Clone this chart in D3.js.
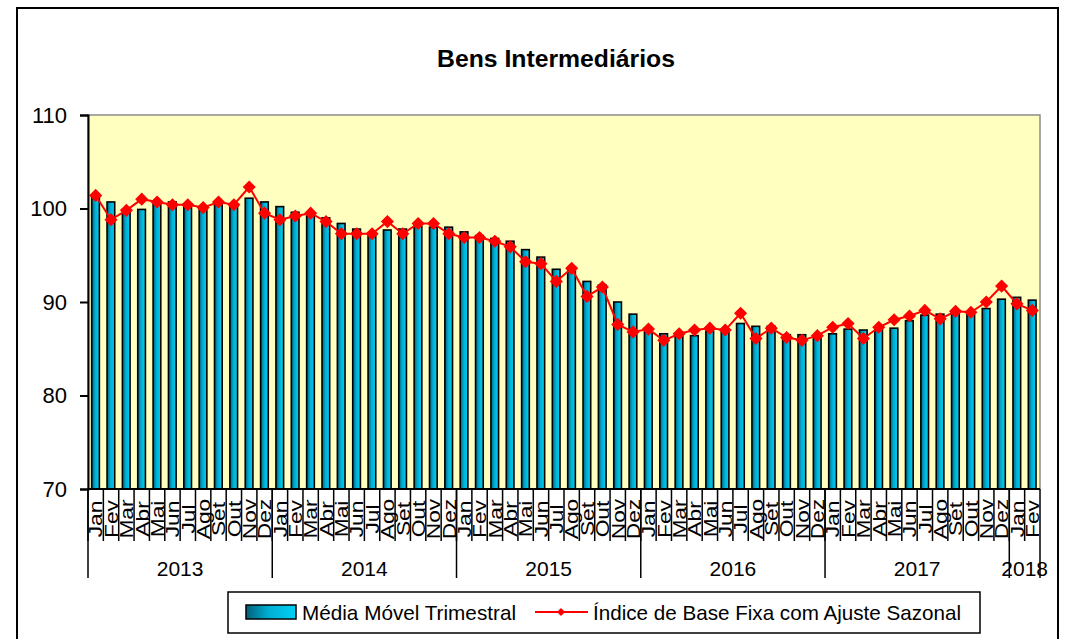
<!DOCTYPE html>
<html>
<head>
<meta charset="utf-8">
<script src="https://cdn.jsdelivr.net/npm/d3@7"></script>
<style>
  body { margin: 0; background: #fff; }
  text { font-family: "Liberation Sans", Arial, sans-serif; fill: #000; }
</style>
</head>
<body>
<div id="chart"></div>
<script>
// month and year labels
const months = ["Jan", "Fev", "Mar", "Abr", "Mai", "Jun", "Jul", "Ago", "Set", "Out", "Nov", "Dez"];
const years = ["2013", "2014", "2015", "2016", "2017", "2018"];
const monthsInYear = [12, 12, 12, 12, 12, 2];

// Índice de Base Fixa com Ajuste Sazonal (red line)
const indice = [
    101.4, 98.8, 99.8, 101.0, 100.7, 100.4, 100.4, 100.1, 100.7, 100.4, 102.3, 99.5,   // 2013
    98.8, 99.2, 99.5, 98.6, 97.3, 97.3, 97.3, 98.6, 97.3, 98.4, 98.4, 97.3,            // 2014
    96.9, 96.9, 96.5, 95.9, 94.3, 94.1, 92.2, 93.6, 90.6, 91.6, 87.6, 86.8,            // 2015
    87.1, 85.9, 86.6, 87.0, 87.2, 87.0, 88.8, 86.1, 87.2, 86.2, 85.9, 86.4,            // 2016
    87.3, 87.7, 86.1, 87.3, 88.1, 88.5, 89.1, 88.2, 89.0, 88.9, 90.0, 91.7,            // 2017
    89.8, 89.1                                                                         // 2018
];

// Média Móvel Trimestral (bars)
const mediaMovel = [
    101.3, 100.7, 99.9, 99.9, 100.6, 100.7, 100.5, 100.2, 100.5, 100.5, 101.1, 100.7,  // 2013
    100.2, 99.6, 99.2, 99.0, 98.4, 97.8, 97.3, 97.7, 97.8, 98.1, 98.0, 98.0,           // 2014
    97.5, 97.1, 96.8, 96.5, 95.6, 94.8, 93.5, 93.3, 92.2, 91.8, 90.0, 88.7,            // 2015
    87.2, 86.6, 86.5, 86.4, 86.9, 87.0, 87.7, 87.4, 87.4, 86.5, 86.5, 86.2,            // 2016
    86.6, 87.1, 87.0, 87.0, 87.2, 88.0, 88.6, 88.7, 88.8, 88.7, 89.3, 90.3,            // 2017
    90.5, 90.2                                                                         // 2018
];

const yTicks = [70, 80, 90, 100, 110];

// build category list (year, month)
const categories = [];
years.forEach((yr, yi) => {
    for (let m = 0; m < monthsInYear[yi]; m++) {
        categories.push({ year: yr, month: months[m], i: categories.length });
    }
});

// SVG dimensions
const width = 1070;
const height = 639;
const plotLeft = 88;
const plotRight = 1040;
const plotTop = 115;
const plotBottom = 489;

const svg = d3.select("#chart")
    .append("svg")
    .attr("width", width)
    .attr("height", height);

// bar gradient
const defs = svg.append("defs");
const grad = defs.append("linearGradient")
    .attr("id", "barGrad")
    .attr("x1", "0%").attr("x2", "100%")
    .attr("y1", "0%").attr("y2", "0%");
grad.append("stop").attr("offset", "0%").attr("stop-color", "#005f78");
grad.append("stop").attr("offset", "45%").attr("stop-color", "#00aed2");
grad.append("stop").attr("offset", "100%").attr("stop-color", "#00d0f5");

// outer frame
svg.append("rect")
    .attr("x", 17).attr("y", 8)
    .attr("width", 1041).attr("height", 650)
    .attr("fill", "none")
    .attr("stroke", "#000")
    .attr("stroke-width", 2);

// scales
const x = d3.scaleBand()
    .domain(categories.map(d => d.i))
    .range([plotLeft, plotRight])
    .padding(0);

const y = d3.scaleLinear()
    .domain([70, 110])
    .range([plotBottom, plotTop]);

// plot background
svg.append("rect")
    .attr("x", plotLeft).attr("y", plotTop)
    .attr("width", plotRight - plotLeft)
    .attr("height", plotBottom - plotTop)
    .attr("fill", "#ffffc0")
    .attr("stroke", "#8c8c8c")
    .attr("stroke-width", 1.5);

// title
svg.append("text")
    .attr("x", 556)
    .attr("y", 67)
    .attr("text-anchor", "middle")
    .attr("font-size", 23)
    .attr("font-weight", "bold")
    .attr("textLength", 238)
    .attr("lengthAdjust", "spacingAndGlyphs")
    .text("Bens Intermediários");

// bars
const bw = x.bandwidth();
svg.append("g")
    .selectAll("rect")
    .data(mediaMovel)
    .enter().append("rect")
    .attr("x", (d, i) => x(i) + bw * 0.24)
    .attr("y", d => y(d))
    .attr("width", bw * 0.5)
    .attr("height", d => plotBottom - y(d))
    .attr("fill", "url(#barGrad)")
    .attr("stroke", "#000")
    .attr("stroke-width", 1.6);

// red line + diamond markers
const line = d3.line()
    .x((d, i) => x(i) + bw / 2)
    .y(d => y(d));

svg.append("path")
    .datum(indice)
    .attr("d", line)
    .attr("fill", "none")
    .attr("stroke", "#ff0000")
    .attr("stroke-width", 2);

const diamond = d3.symbol().type(d3.symbolDiamond2).size(110);
svg.append("g")
    .selectAll("path")
    .data(indice)
    .enter().append("path")
    .attr("d", diamond)
    .attr("transform", (d, i) => `translate(${x(i) + bw / 2},${y(d)})`)
    .attr("fill", "#ff0000");

// y axis
const yAxis = d3.axisLeft(y)
    .tickValues(yTicks)
    .tickSize(8)
    .tickPadding(13);

const yG = svg.append("g")
    .attr("transform", `translate(${plotLeft},0)`)
    .call(yAxis);
yG.select(".domain").attr("stroke", "#000").attr("stroke-width", 2);
yG.selectAll(".tick line").attr("stroke", "#000").attr("stroke-width", 2);
yG.selectAll(".tick text")
    .attr("font-size", 22)
    .attr("font-family", "Liberation Sans, Arial, sans-serif");

// x axis baseline
svg.append("line")
    .attr("x1", plotLeft).attr("x2", plotRight)
    .attr("y1", plotBottom).attr("y2", plotBottom)
    .attr("stroke", "#000")
    .attr("stroke-width", 2);

// month tick lines (category boundaries)
svg.append("g")
    .selectAll("line")
    .data(categories)
    .enter().append("line")
    .attr("x1", d => x(d.i)).attr("x2", d => x(d.i))
    .attr("y1", plotBottom).attr("y2", 541)
    .attr("stroke", "#000")
    .attr("stroke-width", 1.5);

// month labels (rotated, slightly stretched along the text)
svg.append("g")
    .selectAll("text")
    .data(categories)
    .enter().append("text")
    .attr("transform", d => `translate(${x(d.i) + bw / 2},519) rotate(-90) scale(1.2,1)`)
    .attr("text-anchor", "middle")
    .attr("dominant-baseline", "central")
    .attr("font-size", 19)
    .text(d => d.month);

// year groups
const yearSpans = [];
let start = 0;
years.forEach((yr, yi) => {
    yearSpans.push({ year: yr, first: start, last: start + monthsInYear[yi] - 1 });
    start += monthsInYear[yi];
});

const yearEdges = yearSpans.map(s => x(s.first)).concat([plotRight]);
svg.append("g")
    .selectAll("line")
    .data(yearEdges)
    .enter().append("line")
    .attr("x1", d => d).attr("x2", d => d)
    .attr("y1", plotBottom).attr("y2", 578)
    .attr("stroke", "#000")
    .attr("stroke-width", 1.5);

svg.append("g")
    .selectAll("text")
    .data(yearSpans)
    .enter().append("text")
    .attr("x", d => (x(d.first) + x(d.last) + bw) / 2)
    .attr("y", 576)
    .attr("text-anchor", "middle")
    .attr("font-size", 21)
    .text(d => d.year);

// legend
const legend = svg.append("g");
legend.append("rect")
    .attr("x", 228).attr("y", 592)
    .attr("width", 752).attr("height", 41)
    .attr("fill", "#fff")
    .attr("stroke", "#000")
    .attr("stroke-width", 1.5);

legend.append("rect")
    .attr("x", 246).attr("y", 605)
    .attr("width", 50).attr("height", 14)
    .attr("fill", "url(#barGrad)")
    .attr("stroke", "#000")
    .attr("stroke-width", 1.5);

legend.append("text")
    .attr("x", 302).attr("y", 620)
    .attr("font-size", 21)
    .attr("textLength", 214)
    .attr("lengthAdjust", "spacingAndGlyphs")
    .text("Média Móvel Trimestral");

legend.append("line")
    .attr("x1", 535).attr("x2", 588)
    .attr("y1", 612).attr("y2", 612)
    .attr("stroke", "#ff0000")
    .attr("stroke-width", 2);

legend.append("path")
    .attr("d", d3.symbol().type(d3.symbolDiamond2).size(40))
    .attr("transform", "translate(561,612)")
    .attr("fill", "#ff0000");

legend.append("text")
    .attr("x", 593).attr("y", 620)
    .attr("font-size", 21)
    .attr("textLength", 368)
    .attr("lengthAdjust", "spacingAndGlyphs")
    .text("Índice de Base Fixa com Ajuste Sazonal");
</script>
</body>
</html>
